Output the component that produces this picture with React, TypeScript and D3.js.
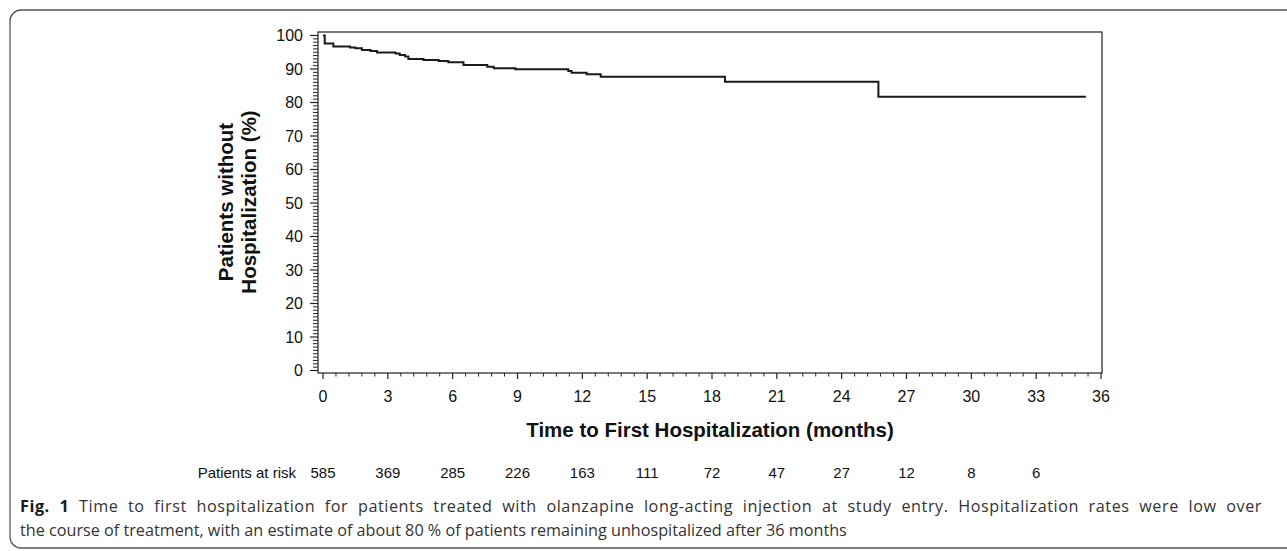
import React, { useLayoutEffect, useRef, useState } from "react";
import * as d3 from "d3";

const kmTimes = [0, 0.08, 0.48, 1.25, 1.5, 1.8, 2.2, 2.5, 3.35, 3.55, 3.8, 3.95, 4.65, 5.35, 5.8, 6.5, 7.6, 7.9, 8.9, 11.35, 11.5, 12.2, 12.85, 18.6, 25.7];
const kmSurvival = [100, 97.6, 96.7, 96.4, 96.2, 95.7, 95.4, 94.9, 94.6, 94.2, 93.7, 93.0, 92.7, 92.4, 92.0, 91.2, 90.7, 90.2, 89.9, 89.4, 88.9, 88.4, 87.7, 86.2, 81.7];
const lastFollowUp = 35.3;

const xTickValues = [0, 3, 6, 9, 12, 15, 18, 21, 24, 27, 30, 33, 36];
const yTickValues = [0, 10, 20, 30, 40, 50, 60, 70, 80, 90, 100];
const riskTimes = [0, 3, 6, 9, 12, 15, 18, 21, 24, 27, 30, 33];
const riskCounts = [585, 369, 285, 226, 163, 111, 72, 47, 27, 12, 8, 6];

const xTitle = "Time to First Hospitalization (months)";
const yTitleLines = ["Patients without", "Hospitalization (%)"];
const captionBold = "Fig. 1";
const captionLine1 = " Time to first hospitalization for patients treated with olanzapine long-acting injection at study entry. Hospitalization rates were low over";
const captionLine2 = "the course of treatment, with an estimate of about 80 % of patients remaining unhospitalized after 36 months";

export default function App() {
  const W = 1287, H = 551;
  const frame = { left: 318, right: 1102, top: 32, bottom: 373 };
  const x = d3.scaleLinear().domain([0, 36]).range([323, 1101]);
  const y = d3.scaleLinear().domain([0, 100]).range([370.5, 35.5]);

  const capRef = useRef<SVGTextElement | null>(null);
  const [spacing, setSpacing] = useState<{ word: number; letter: number } | null>(null);
  useLayoutEffect(() => {
    const el = capRef.current;
    if (!el || spacing) return;
    const len = el.getComputedTextLength();
    const full = captionBold + captionLine1;
    const spaces = full.split(" ").length - 1;
    const extra = Math.max(0, 1242 - len);
    setSpacing({ word: (extra * 0.55) / spaces, letter: (extra * 0.45) / full.length });
  }, [spacing]);

  const pts: [number, number][] = kmTimes.map((t, i) => [t, kmSurvival[i]]);
  pts.push([lastFollowUp, kmSurvival[kmSurvival.length - 1]]);
  const line = d3
    .line<[number, number]>()
    .x((d) => x(d[0]))
    .y((d) => y(d[1]))
    .curve(d3.curveStepAfter);

  const yMinor = d3.range(0, 101, 1).filter((v) => v % 10 !== 0);
  const xMinor = d3.range(0, 36.001, 0.6).filter((v) => Math.abs(v / 3 - Math.round(v / 3)) > 1e-6);

  const axisFont = "Liberation Sans, Arial, sans-serif";
  const axisColor = "#222";
  const captionFont = "Open Sans, Noto Sans, sans-serif";

  return (
    <svg
      width={W}
      height={H}
      style={{ position: "absolute", left: 0, top: 0, background: "#fff" }}
    >
      <rect x={10} y={10} width={1320} height={538} rx={11} ry={11} fill="none" stroke="#555" strokeWidth={1.3} />

      {/* plot frame */}
      <rect
        x={frame.left}
        y={frame.top}
        width={frame.right - frame.left}
        height={frame.bottom - frame.top}
        fill="none"
        stroke={axisColor}
        strokeWidth={1.2}
      />

      {/* y ticks */}
      {yTickValues.map((v) => (
        <g key={"yt" + v}>
          <line x1={frame.left - 8} x2={frame.left} y1={y(v)} y2={y(v)} stroke={axisColor} strokeWidth={1.2} />
          <text
            x={frame.left - 15}
            y={y(v)}
            dy="0.36em"
            textAnchor="end"
            fontFamily={axisFont}
            fontSize={16}
            fill="#111"
          >
            {v}
          </text>
        </g>
      ))}
      {yMinor.map((v) => (
        <line key={"ym" + v} x1={frame.left - 5} x2={frame.left} y1={y(v)} y2={y(v)} stroke={axisColor} strokeWidth={1} />
      ))}

      {/* x ticks */}
      {xTickValues.map((v) => (
        <g key={"xt" + v}>
          <line x1={x(v)} x2={x(v)} y1={frame.bottom} y2={frame.bottom + 6} stroke={axisColor} strokeWidth={1.2} />
          <text
            x={x(v)}
            y={402}
            textAnchor="middle"
            fontFamily={axisFont}
            fontSize={16}
            fill="#111"
          >
            {v}
          </text>
        </g>
      ))}
      {xMinor.map((v) => (
        <line key={"xm" + v} x1={x(v)} x2={x(v)} y1={frame.bottom} y2={frame.bottom + 3.5} stroke={axisColor} strokeWidth={1} />
      ))}

      {/* KM curve */}
      <path d={line(pts) || ""} fill="none" stroke="#1a1a1a" strokeWidth={2} />

      {/* axis titles */}
      <text
        x={710}
        y={437}
        textAnchor="middle"
        fontFamily={axisFont}
        fontWeight="bold"
        fontSize={20.5}
        fill="#111"
      >
        {xTitle}
      </text>
      {yTitleLines.map((s, i) => (
        <text
          key={s}
          transform={`translate(${233 + i * 23},202) rotate(-90)`}
          textAnchor="middle"
          fontFamily={axisFont}
          fontWeight="bold"
          fontSize={20.5}
          fill="#111"
        >
          {s}
        </text>
      ))}

      {/* patients at risk */}
      <text x={296} y={478} textAnchor="end" fontFamily={axisFont} fontSize={15} fill="#111">
        Patients at risk
      </text>
      {riskTimes.map((t, i) => (
        <text key={"r" + t} x={x(t)} y={478} textAnchor="middle" fontFamily={axisFont} fontSize={15} fill="#111">
          {riskCounts[i]}
        </text>
      ))}

      {/* caption */}
      <text
        ref={capRef}
        x={20}
        y={512}
        fontFamily={captionFont}
        fontSize={16.2}
        fill="#333"
        style={{
          wordSpacing: `${spacing ? spacing.word : 0}px`,
          letterSpacing: `${spacing ? spacing.letter : 0}px`,
        }}
      >
        <tspan fontWeight="bold" fill="#1a1a1a">{captionBold}</tspan>
        <tspan>{captionLine1}</tspan>
      </text>
      <text x={20} y={536} fontFamily={captionFont} fontSize={16.2} fill="#333">
        {captionLine2}
      </text>
    </svg>
  );
}
